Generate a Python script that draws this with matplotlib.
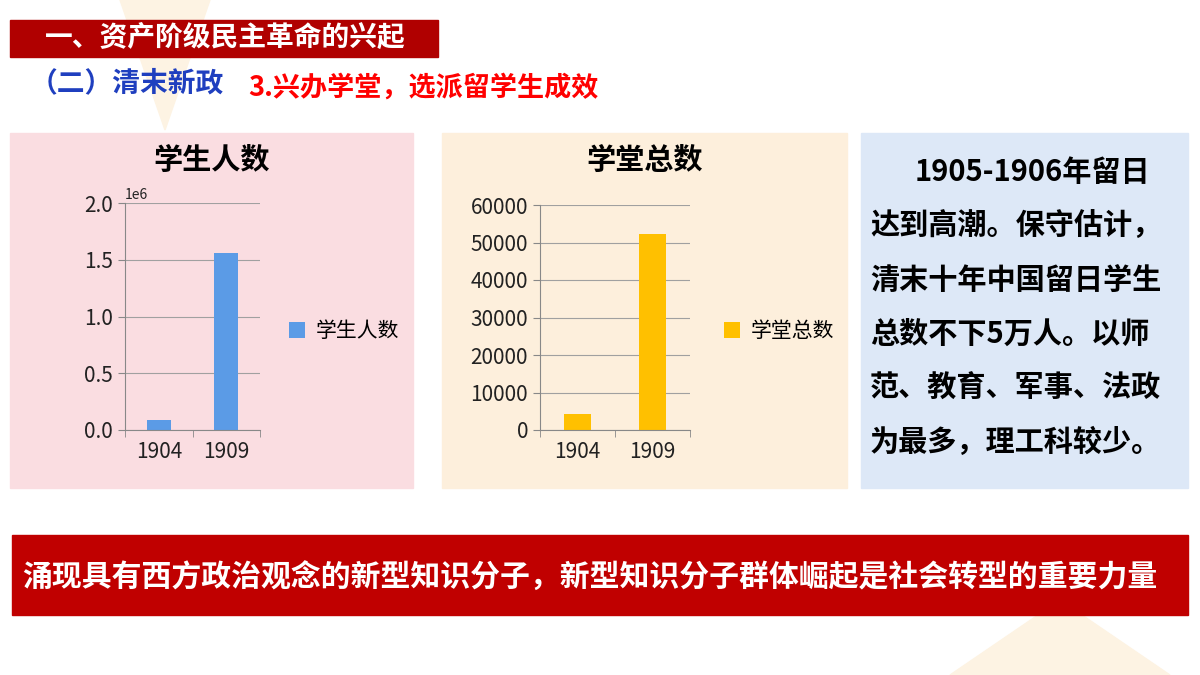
import matplotlib.pyplot as plt
from matplotlib.patches import Rectangle, Polygon

plt.rcParams['font.family'] = ['Noto Sans CJK SC', 'DejaVu Sans']

years = ['1904', '1909']
students = [92169, 1560270]
schools = [4222, 52348]
side_lines = ['1905-1906年留日', '达到高潮。保守估计，', '清末十年中国留日学生',
              '总数不下5万人。以师', '范、教育、军事、法政', '为最多，理工科较少。']

W, H = 1200, 675
fig = plt.figure(figsize=(12, 6.75), dpi=100)

def box(x0, y0, x1, y1, color, **kw):
    fig.patches.append(Rectangle((x0 / W, 1 - y1 / H), (x1 - x0) / W, (y1 - y0) / H,
                                 transform=fig.transFigure, color=color, zorder=-1, **kw))

def txt(x, y, s, **kw):
    fig.text(x / W, 1 - y / H, s, **kw)

# faint background triangles
fig.patches.append(Polygon([(120 / W, 1), (210 / W, 1), (165 / W, 1 - 130 / H)],
                           transform=fig.transFigure, color='#FDF3E3', zorder=-2))
fig.patches.append(Polygon([(950 / W, 0), (1170 / W, 0), (1060 / W, 1 - 600 / H)],
                           transform=fig.transFigure, color='#FDF3E3', zorder=-2))

box(10, 20, 438, 57, '#B00000')
txt(45, 38, '一、资产阶级民主革命的兴起', color='white', fontsize=20, weight='bold', va='center')
txt(30, 83, '（二）清末新政', color='#1F3FBF', fontsize=20, weight='bold', va='center')
txt(248, 88, '3.兴办学堂，选派留学生成效', color='#FF0000', fontsize=19.5, weight='bold', va='center')

box(10, 133, 413, 488, '#FADDE1')
box(442, 133, 847, 488, '#FDEFDC')
box(861, 133, 1188, 488, '#DDE8F7')

def chart(rect, vals, ymax, step, color, title, tx, lx, ly):
    x0, y0, x1, y1 = rect
    ax = fig.add_axes([x0 / W, 1 - y1 / H, (x1 - x0) / W, (y1 - y0) / H], zorder=5)
    ax.bar(years, vals, width=0.35, color=color, label=title)
    ax.set_xlim(-0.5, 1.5)
    ax.set_ylim(0, ymax)
    ax.set_yticks(range(0, ymax + 1, step))
    ax.patch.set_visible(False)
    ax.grid(axis='y', color='#A0A0A0', lw=0.8)
    ax.set_axisbelow(True)
    for s in ['top', 'right']:
        ax.spines[s].set_visible(False)
    for s in ['left', 'bottom']:
        ax.spines[s].set_color('#888888')
    ax.tick_params(labelsize=15, color='#888888', length=5, colors='#222222')
    ax.tick_params(axis='x', length=0, pad=8)
    ax.set_xticks([-0.5, 0.5, 1.5], minor=True)
    ax.tick_params(axis='x', which='minor', length=5, color='#888888')
    txt(tx, 160, title, fontsize=21, weight='bold', ha='center', va='center')
    ax.legend(loc='center left', bbox_to_anchor=((lx - x0) / (x1 - x0), 1 - (ly - y0) / (y1 - y0)),
              frameon=False, fontsize=15, handlelength=0.8, handleheight=0.8, handletextpad=0.5)

chart((125, 203, 260, 430), students, 2000000, 500000, '#5B9BE6', '学生人数', 212, 270, 331)
chart((540, 205, 690, 430), schools, 60000, 10000, '#FFC000', '学堂总数', 645, 705, 331)

for i, line in enumerate(side_lines):
    txt(915 if i == 0 else 870, 172 + i * 54, line, fontsize=21, weight='bold', va='center')

box(12, 535, 1188, 615, '#C00000')
txt(22, 578, '涌现具有西方政治观念的新型知识分子，新型知识分子群体崛起是社会转型的重要力量',
    color='white', fontsize=21.5, weight='bold', va='center')

fig.savefig('out.png')
